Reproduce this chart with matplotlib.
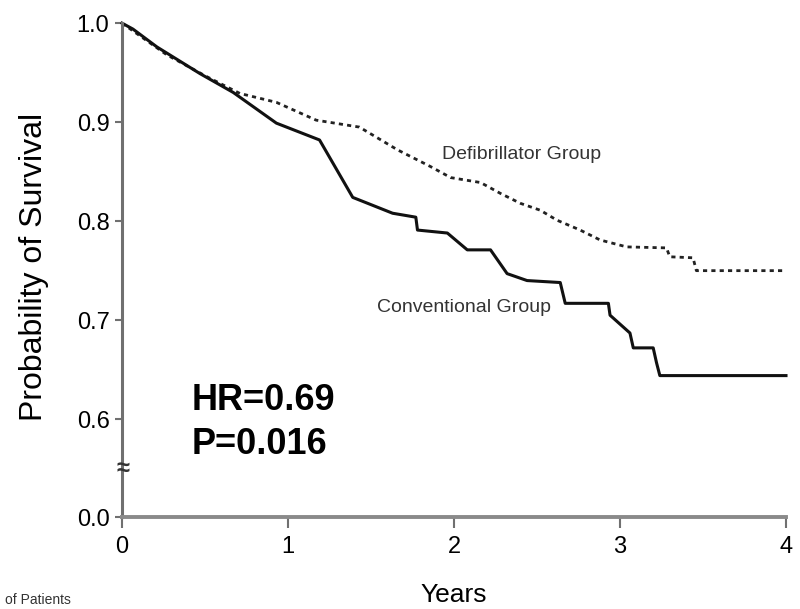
import matplotlib.pyplot as plt

# Kaplan-Meier estimates
conv_years = [0.0, 0.066, 0.21, 0.47, 0.67, 0.93, 1.19, 1.39, 1.63, 1.77, 1.78, 1.96,
              2.08, 2.22, 2.32, 2.44, 2.64, 2.67, 2.93, 2.94, 3.06, 3.08, 3.20, 3.22,
              3.24, 4.0]
conv_surv = [1.0, 0.994, 0.976, 0.949, 0.930, 0.899, 0.882, 0.824, 0.808, 0.804, 0.791, 0.788,
             0.771, 0.771, 0.747, 0.740, 0.738, 0.717, 0.717, 0.705, 0.687, 0.672, 0.672, 0.657,
             0.644, 0.644]

defib_years = [0.0, 0.27, 0.51, 0.71, 0.93, 1.17, 1.43, 1.66, 1.86, 1.98, 2.16, 2.28,
               2.40, 2.52, 2.62, 2.76, 2.88, 3.04, 3.28, 3.30, 3.44, 3.46, 4.0]
defib_surv = [1.0, 0.968, 0.946, 0.929, 0.920, 0.902, 0.895, 0.872, 0.855, 0.844, 0.839, 0.828,
              0.818, 0.811, 0.801, 0.791, 0.781, 0.774, 0.773, 0.764, 0.763, 0.750, 0.750]

x_ticks = [0, 1, 2, 3, 4]
y_ticks = [0.6, 0.7, 0.8, 0.9, 1.0]

plt.rcParams["font.family"] = "Liberation Sans"

axis_col = "#707070"
fig = plt.figure(figsize=(8, 6.09), dpi=100)
ax = fig.add_axes([0.1525, 0.228, 0.83, 0.734])
ax_low = fig.add_axes([0.1525, 0.151, 0.83, 0.077])

ax.plot(defib_years, defib_surv, color="#222222", lw=2.0, linestyle=(0, (1.5, 1.5)), clip_on=False)
ax.plot(conv_years, conv_surv, color="#111111", lw=2.2, clip_on=False)

ax.set_xlim(0, 4)
ax.set_ylim(0.5485, 1.0)
ax.set_yticks(y_ticks)
ax.set_yticklabels([f"{v:.1f}" for v in y_ticks])
ax.set_xticks([])
for s in ["top", "right", "bottom"]:
    ax.spines[s].set_visible(False)
ax.spines["left"].set_color(axis_col)
ax.spines["left"].set_linewidth(2.2)
ax.tick_params(axis="y", length=5, width=1.5, color=axis_col, labelsize=17, pad=4)

ax_low.set_xlim(0, 4)
ax_low.set_ylim(0, 1)
ax_low.set_yticks([0])
ax_low.set_yticklabels(["0.0"])
ax_low.set_xticks(x_ticks)
ax_low.set_xticklabels([str(v) for v in x_ticks])
for s in ["top", "right"]:
    ax_low.spines[s].set_visible(False)
ax_low.spines["left"].set_color(axis_col)
ax_low.spines["left"].set_linewidth(2.2)
ax_low.spines["bottom"].set_color("#8a8a8a")
ax_low.spines["bottom"].set_linewidth(2.8)
ax_low.tick_params(axis="y", length=5, width=1.5, color=axis_col, labelsize=17, pad=4)
ax_low.tick_params(axis="x", length=8, width=1.5, color=axis_col, labelsize=17, pad=6)
ax_low.set_xlabel("Years", fontsize=19, labelpad=18)

fig.text(0.043, 0.561, "Probability of Survival", rotation=90, fontsize=23,
         ha="center", va="center")

# axis break mark
fig.text(123 / 800, 1 - 469 / 609, "\u2248", fontsize=17, ha="center", va="center",
         color="#333333", fontweight="bold")

ax.text(1.93, 0.867, "Defibrillator Group", fontsize=14, va="center", ha="left", color="#333333")
ax.text(1.536, 0.713, "Conventional Group", fontsize=14, va="center", ha="left", color="#333333")
ax.text(0.42, 0.619, "HR=0.69", fontsize=26, fontweight="bold", va="center", ha="left")
ax.text(0.42, 0.574, "P=0.016", fontsize=26, fontweight="bold", va="center", ha="left")

fig.text(0.006, 0.015, "of Patients", fontsize=10, ha="left", va="center", color="#333333")

fig.savefig("out.png", dpi=100)
